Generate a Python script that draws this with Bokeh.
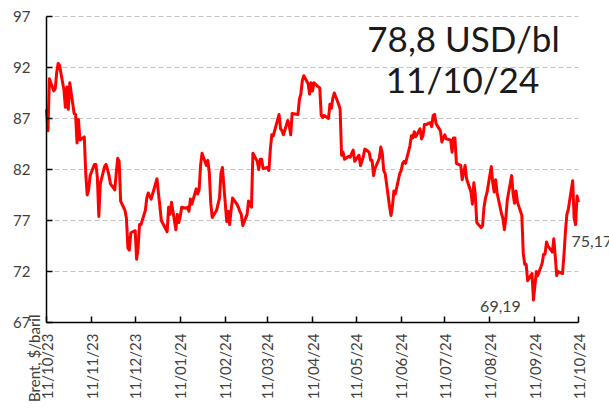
import math
import pandas as pd
from bokeh.plotting import figure
from bokeh.models import (ColumnDataSource, FixedTicker, DatetimeTickFormatter,
                          Range1d, Label)
from bokeh.embed import file_html
from bokeh.resources import INLINE

# ---------------- data ----------------
dates = [
    "2023-10-11", "2023-10-12", "2023-10-13", "2023-10-16", "2023-10-17", "2023-10-18", "2023-10-19", "2023-10-20",
    "2023-10-23", "2023-10-24", "2023-10-25", "2023-10-26", "2023-10-27", "2023-10-30", "2023-10-31",
    "2023-11-01", "2023-11-02", "2023-11-03", "2023-11-06", "2023-11-07", "2023-11-08", "2023-11-09", "2023-11-10",
    "2023-11-13", "2023-11-14", "2023-11-15", "2023-11-16", "2023-11-17", "2023-11-20", "2023-11-21", "2023-11-22",
    "2023-11-23", "2023-11-24", "2023-11-27", "2023-11-28", "2023-11-29", "2023-11-30",
    "2023-12-01", "2023-12-04", "2023-12-05", "2023-12-06", "2023-12-07", "2023-12-08", "2023-12-11", "2023-12-12",
    "2023-12-13", "2023-12-14", "2023-12-15", "2023-12-18", "2023-12-19", "2023-12-20", "2023-12-21", "2023-12-22",
    "2023-12-26", "2023-12-27", "2023-12-28", "2023-12-29",
    "2024-01-02", "2024-01-03", "2024-01-04", "2024-01-05", "2024-01-08", "2024-01-09", "2024-01-10", "2024-01-11",
    "2024-01-12", "2024-01-15", "2024-01-16", "2024-01-17", "2024-01-18", "2024-01-19", "2024-01-22", "2024-01-23",
    "2024-01-24", "2024-01-25", "2024-01-26", "2024-01-29", "2024-01-30", "2024-01-31",
    "2024-02-01", "2024-02-02", "2024-02-05", "2024-02-06", "2024-02-07", "2024-02-08", "2024-02-09", "2024-02-12",
    "2024-02-13", "2024-02-14", "2024-02-15", "2024-02-16", "2024-02-19", "2024-02-20", "2024-02-21", "2024-02-22",
    "2024-02-23", "2024-02-26", "2024-02-27", "2024-02-28", "2024-02-29",
    "2024-03-01", "2024-03-04", "2024-03-05", "2024-03-06", "2024-03-07", "2024-03-08", "2024-03-11", "2024-03-12",
    "2024-03-13", "2024-03-14", "2024-03-15", "2024-03-18", "2024-03-19", "2024-03-20", "2024-03-21", "2024-03-22",
    "2024-03-25", "2024-03-26", "2024-03-27", "2024-03-28",
    "2024-04-01", "2024-04-02", "2024-04-03", "2024-04-04", "2024-04-05", "2024-04-08", "2024-04-09", "2024-04-10",
    "2024-04-11", "2024-04-12", "2024-04-15", "2024-04-16", "2024-04-17", "2024-04-18", "2024-04-19", "2024-04-22",
    "2024-04-23", "2024-04-24", "2024-04-25", "2024-04-26", "2024-04-29", "2024-04-30",
    "2024-05-01", "2024-05-02", "2024-05-03", "2024-05-06", "2024-05-07", "2024-05-08", "2024-05-09", "2024-05-10",
    "2024-05-13", "2024-05-14", "2024-05-15", "2024-05-16", "2024-05-17", "2024-05-20", "2024-05-21", "2024-05-22",
    "2024-05-23", "2024-05-24", "2024-05-27", "2024-05-28", "2024-05-29", "2024-05-30", "2024-05-31",
    "2024-06-03", "2024-06-04", "2024-06-05", "2024-06-06", "2024-06-07", "2024-06-10", "2024-06-11", "2024-06-12",
    "2024-06-13", "2024-06-14", "2024-06-17", "2024-06-18", "2024-06-19", "2024-06-20", "2024-06-21", "2024-06-24",
    "2024-06-25", "2024-06-26", "2024-06-27", "2024-06-28",
    "2024-07-01", "2024-07-02", "2024-07-03", "2024-07-04", "2024-07-05", "2024-07-08", "2024-07-09", "2024-07-10",
    "2024-07-11", "2024-07-12", "2024-07-15", "2024-07-16", "2024-07-17", "2024-07-18", "2024-07-19", "2024-07-22",
    "2024-07-23", "2024-07-24", "2024-07-25", "2024-07-26", "2024-07-29", "2024-07-30", "2024-07-31",
    "2024-08-01", "2024-08-02", "2024-08-05", "2024-08-06", "2024-08-07", "2024-08-08", "2024-08-09", "2024-08-12",
    "2024-08-13", "2024-08-14", "2024-08-15", "2024-08-16", "2024-08-19", "2024-08-20", "2024-08-21", "2024-08-22",
    "2024-08-23", "2024-08-26", "2024-08-27", "2024-08-28", "2024-08-29", "2024-08-30",
    "2024-09-02", "2024-09-03", "2024-09-04", "2024-09-05", "2024-09-06", "2024-09-09", "2024-09-10", "2024-09-11",
    "2024-09-12", "2024-09-13", "2024-09-16", "2024-09-17", "2024-09-18", "2024-09-19", "2024-09-20", "2024-09-23",
    "2024-09-24", "2024-09-25", "2024-09-26", "2024-09-27", "2024-09-30",
    "2024-10-01", "2024-10-02", "2024-10-03", "2024-10-04", "2024-10-07", "2024-10-08", "2024-10-09", "2024-10-10",
    "2024-10-11",
]
brent = [
    87.9, 85.8, 90.9, 89.7, 89.9, 91.5, 92.4, 92.2,
    89.8, 88.1, 90.1, 87.9, 90.5, 87.5, 87.4,
    84.6, 86.9, 84.9, 85.2, 81.6, 79.5, 80.0, 81.4,
    82.5, 82.5, 81.2, 77.4, 80.6, 82.3, 82.5, 82.0,
    81.4, 80.6, 80.0, 81.7, 83.1, 82.8,
    78.9, 78.0, 77.2, 74.3, 74.1, 75.8, 76.0, 73.2,
    74.3, 76.6, 76.6, 78.0, 79.2, 79.7, 79.4, 79.1,
    81.1, 79.7, 78.4, 77.0,
    75.9, 78.3, 77.6, 78.8, 76.1, 77.6, 76.8, 77.4,
    78.3, 78.2, 78.3, 77.9, 79.1, 78.6, 80.1, 79.6,
    80.0, 82.4, 83.6, 82.4, 82.9, 81.7,
    78.7, 77.3, 78.0, 78.6, 79.2, 81.6, 82.2, 76.9,
    77.9, 76.6, 78.0, 79.2, 78.6, 78.3, 77.9, 77.6,
    76.5, 77.6, 78.9, 78.5, 78.3,
    83.6, 82.8, 82.0, 83.0, 83.0, 82.1, 82.2, 81.9,
    84.0, 85.4, 85.3, 86.9, 87.4, 86.0, 85.8, 85.4,
    86.8, 86.3, 85.4, 87.5,
    87.4, 88.9, 89.4, 90.7, 91.2, 90.4, 89.4, 90.5,
    89.7, 90.5, 90.1, 90.0, 87.3, 87.1, 87.3, 87.0,
    88.4, 88.0, 89.0, 89.5, 88.4, 87.9,
    83.4, 83.7, 83.0, 83.3, 83.2, 83.6, 83.9, 82.8,
    83.4, 82.4, 82.8, 83.3, 84.0, 83.7, 82.9, 82.9,
    81.4, 82.1, 83.1, 84.2, 83.6, 81.9, 81.6,
    78.4, 77.5, 78.4, 79.9, 79.6, 81.6, 81.9, 82.6,
    82.8, 82.6, 84.3, 85.3, 85.1, 85.7, 85.2, 86.0,
    85.0, 85.3, 86.4, 86.4,
    86.6, 86.2, 87.3, 87.4, 86.5, 85.8, 84.7, 85.1,
    85.4, 85.0, 84.9, 83.7, 85.1, 85.1, 82.6, 82.4,
    81.0, 81.7, 82.4, 81.1, 79.8, 78.6, 80.7,
    79.5, 76.8, 76.3, 76.5, 78.3, 79.2, 79.7, 82.3,
    80.7, 79.8, 81.0, 79.7, 77.7, 77.2, 76.1, 77.2,
    79.0, 81.4, 79.6, 78.7, 79.9, 78.8,
    77.5, 73.8, 72.7, 72.7, 71.1, 71.8, 69.2, 70.6,
    72.0, 71.6, 72.8, 73.7, 73.7, 74.9, 74.5, 73.9,
    75.2, 73.5, 71.6, 72.0, 71.8,
    73.6, 75.9, 77.6, 78.1, 80.9, 77.2, 76.6, 79.4,
    78.8,
]
tick_dates = ["2023-10-11", "2023-11-11", "2023-12-11", "2024-01-11", "2024-02-11", "2024-03-11",
              "2024-04-11", "2024-05-11", "2024-06-11", "2024-07-11", "2024-08-11", "2024-09-11",
              "2024-10-11"]
y_ticks = [67, 72, 77, 82, 87, 92, 97]
headline_value = "78,8 USD/bl"
headline_date = "11/10/24"
low_label = "69,19"
right_label = "75,17"
y_title = "Brent, $/baril"

# ---------------- layout (pixels) ----------------
W, H = 609, 411
AX_LEFT, AX_RIGHT, AX_TOP, AX_BOTTOM = 46, 578, 16, 322   # plot area inside the canvas
FONT = "Lato"

t0 = pd.Timestamp(tick_dates[0])
t1 = pd.Timestamp(tick_dates[-1])
ms_per_px = (t1 - t0).total_seconds() * 1000.0 / (AX_RIGHT - AX_LEFT)
x_start = t0.value / 1e6 - AX_LEFT * ms_per_px
x_end = t1.value / 1e6 + (W - AX_RIGHT) * ms_per_px
u_per_px = (y_ticks[-1] - y_ticks[0]) / (AX_BOTTOM - AX_TOP)
y_start = y_ticks[0] - (H - AX_BOTTOM) * u_per_px
y_end = y_ticks[-1] + AX_TOP * u_per_px

x = pd.to_datetime(dates)
source = ColumnDataSource(data=dict(date=x, value=brent))

p = figure(width=W, height=H, output_backend="svg", toolbar_location=None,
           x_axis_type="datetime",
           x_range=Range1d(x_start, x_end), y_range=Range1d(y_start, y_end),
           min_border_left=0, min_border_right=0, min_border_top=0, min_border_bottom=0)
p.title.visible = False
p.outline_line_color = None
p.background_fill_color = "white"
p.border_fill_color = "white"
p.xgrid.visible = False
p.ygrid.visible = False

# dashed horizontal grid lines spanning the dated period
grid_src = ColumnDataSource(data=dict(
    x0=[t0] * (len(y_ticks) - 1), x1=[t1] * (len(y_ticks) - 1),
    y=y_ticks[1:]))
p.segment(x0="x0", x1="x1", y0="y", y1="y", source=grid_src,
          line_color="#c4c4c4", line_dash="5 3", line_width=1)

p.line("date", "value", source=source, line_color="#ff0000", line_width=3, line_join="round")

tick_ms = [pd.Timestamp(t).value / 1e6 for t in tick_dates]
xa = p.xaxis[0]
ya = p.yaxis[0]
xa.ticker = FixedTicker(ticks=tick_ms)
fmt = "%d/%m/%y"
xa.formatter = DatetimeTickFormatter(days=fmt, months=fmt, years=fmt, hours=fmt, hourmin=fmt)
xa.major_label_orientation = math.pi / 2
xa.fixed_location = y_ticks[0]
xa.bounds = (tick_ms[0], tick_ms[-1])
ya.ticker = FixedTicker(ticks=y_ticks)
ya.fixed_location = tick_ms[0]
ya.bounds = (y_ticks[0], y_ticks[-1])

for ax in (xa, ya):
    ax.axis_line_color = "black"
    ax.axis_line_width = 1.5
    ax.major_tick_line_color = "black"
    ax.major_tick_line_width = 1.5
    ax.major_tick_in = 6
    ax.major_tick_out = 0
    ax.minor_tick_line_color = None
    ax.major_label_text_font = FONT
    ax.major_label_text_font_size = "15px"
    ax.major_label_text_color = "#404040"
xa.major_label_standoff = 11
ya.major_label_standoff = 16

# text annotations (screen px from the bottom-left of the canvas-filling frame)
def lab(txt, px, py, size, color, align="center", angle=0.0):
    return Label(x=px, y=H - py, x_units="screen", y_units="screen", text=txt,
                 text_font=FONT, text_font_size=size, text_color=color,
                 text_align=align, text_baseline="middle", angle=angle)

p.add_layout(lab(headline_value, 463, 37, "35px", "#1a1a1a"))
p.add_layout(lab(headline_date, 462, 78, "35px", "#1a1a1a"))
p.add_layout(lab(low_label, 500, 306, "16px", "#404040"))
p.add_layout(lab(right_label, 571, 241, "16px", "#404040", align="left"))
p.add_layout(lab(y_title, 33, 314, "15px", "#404040", align="right", angle=math.pi / 2))

open("out.html", "w").write(file_html(p, INLINE))
